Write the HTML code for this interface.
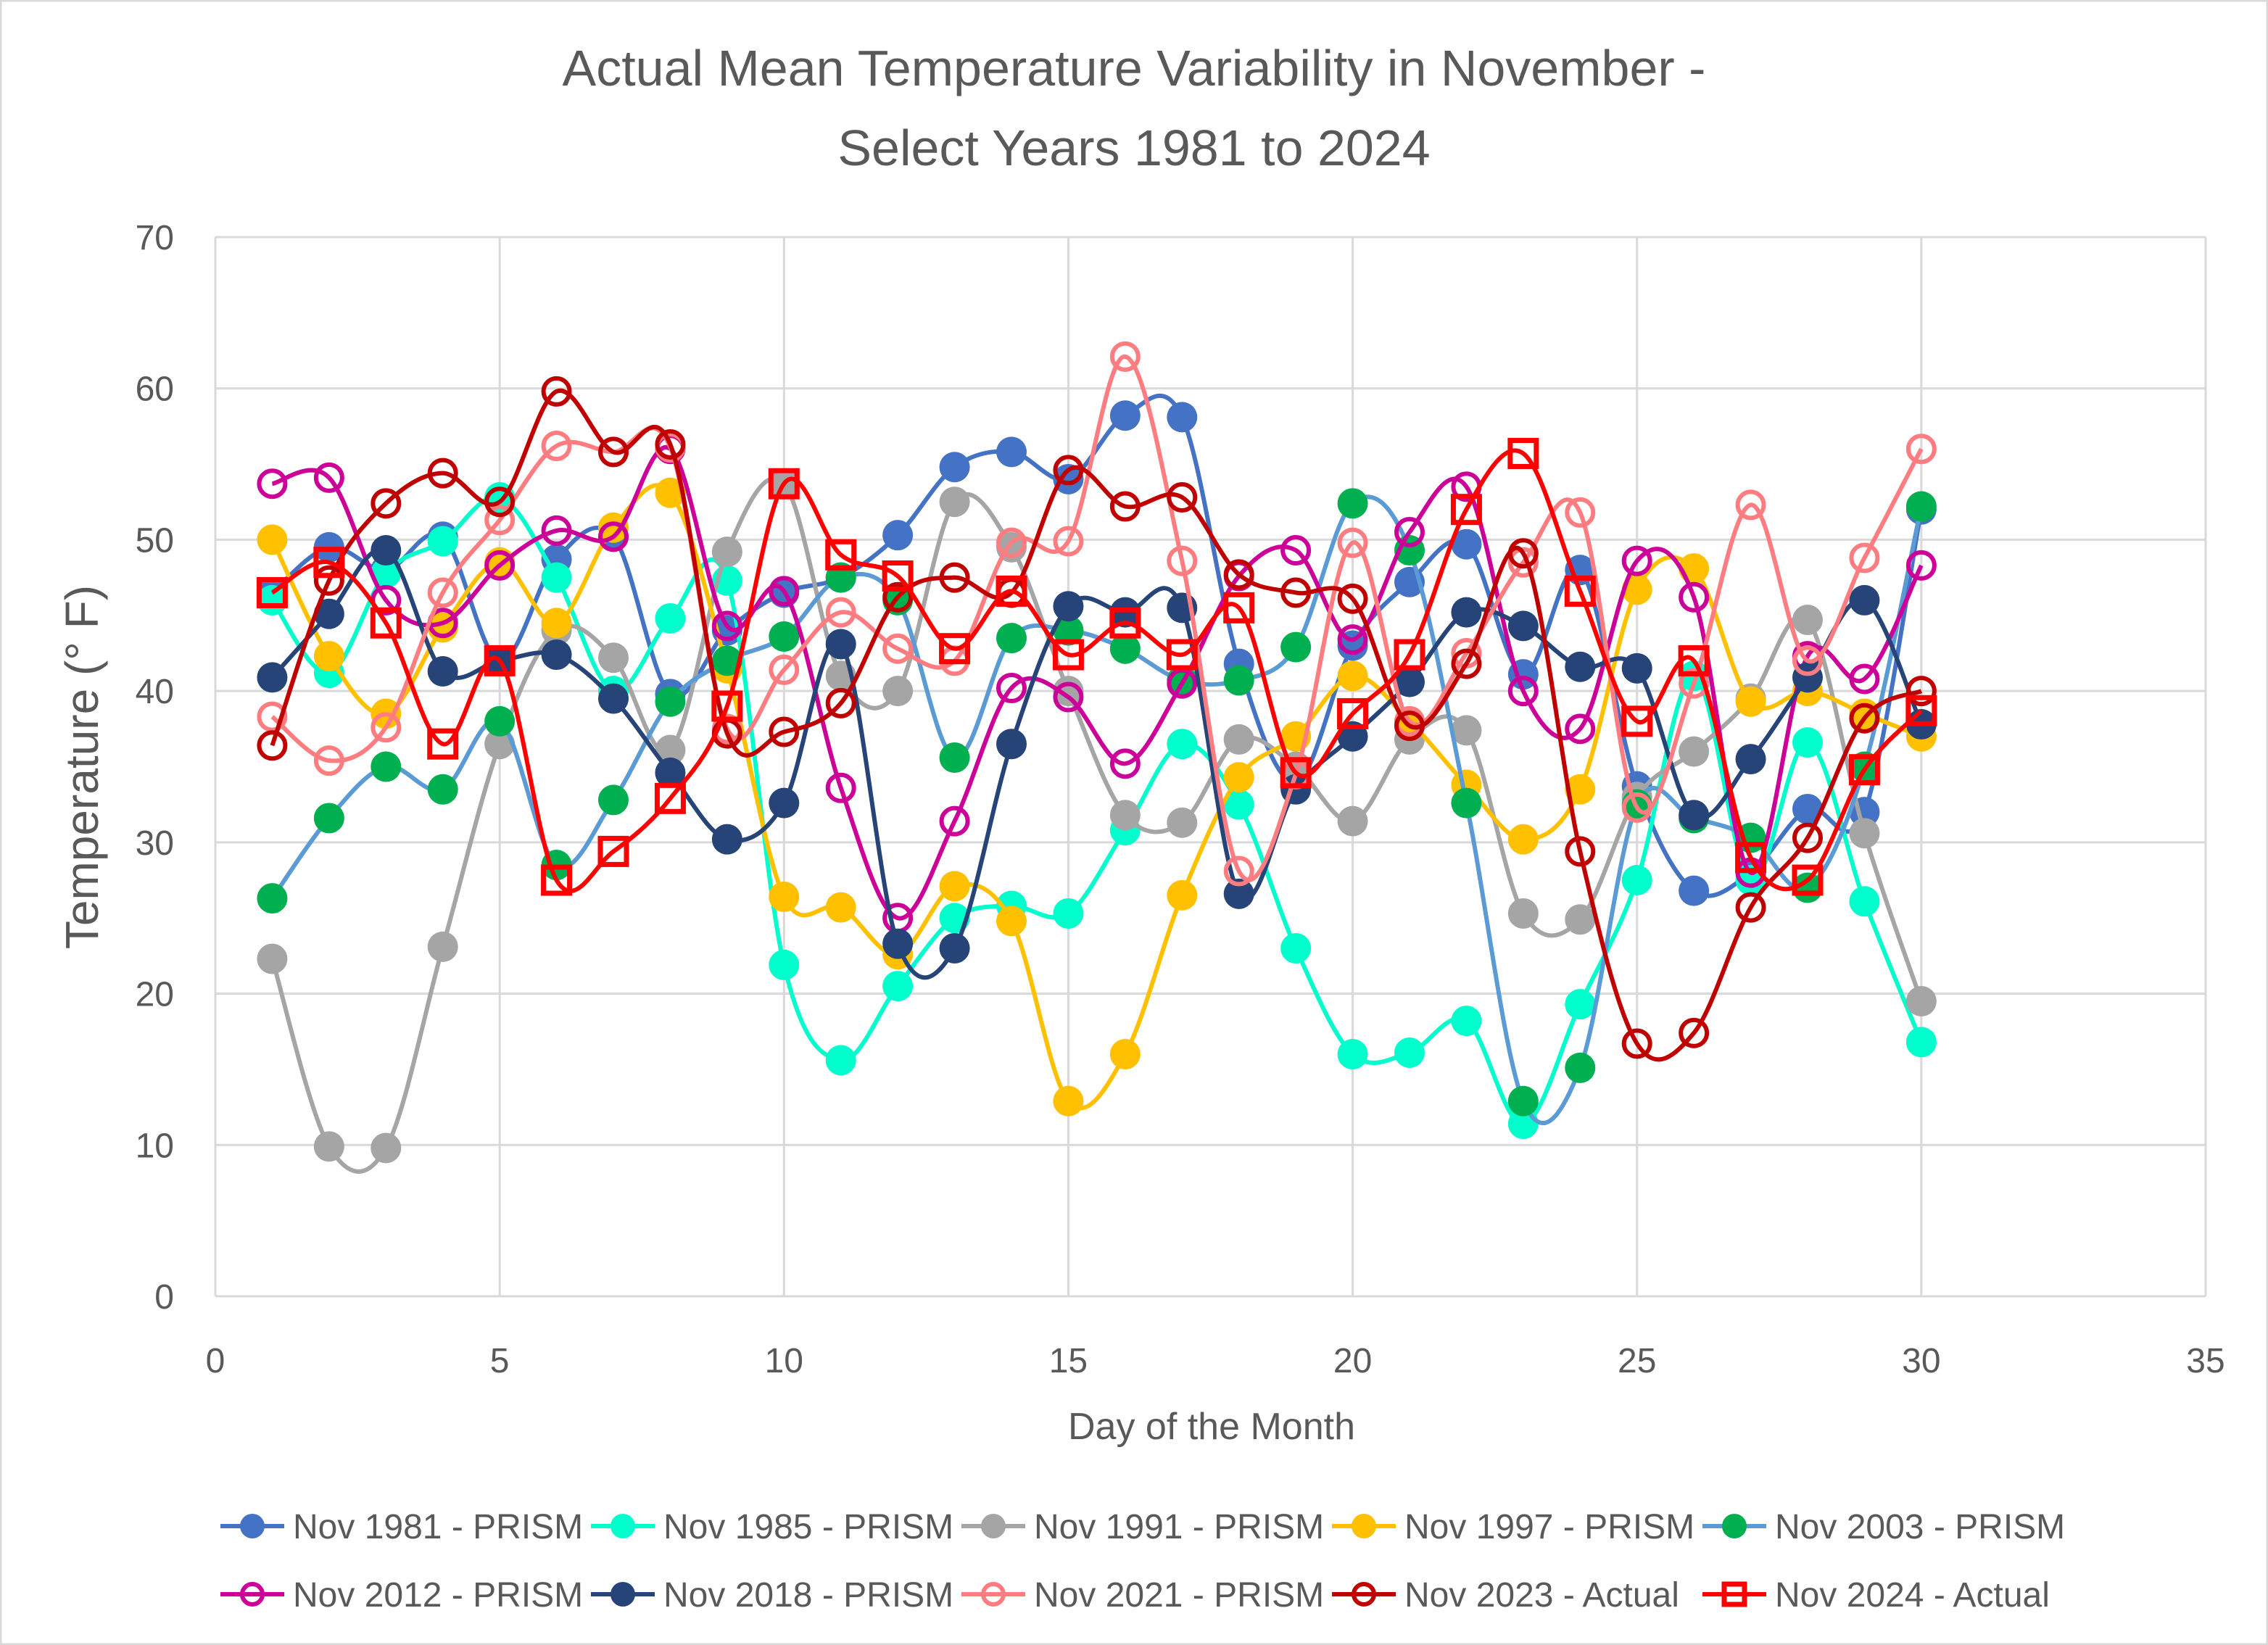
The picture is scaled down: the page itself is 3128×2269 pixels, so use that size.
<!DOCTYPE html>
<html><head><meta charset="utf-8"><style>
html,body{margin:0;padding:0;background:#fff;}
svg{display:block;font-family:"Liberation Sans","DejaVu Sans",sans-serif;}
</style></head><body>
<svg id="chart" xmlns="http://www.w3.org/2000/svg" width="3128" height="2269" viewBox="0 0 3128 2269">
<rect x="1" y="1" width="3126" height="2267" fill="#fff" stroke="#D9D9D9" stroke-width="3"/>
<text x="1564" y="118" text-anchor="middle" font-size="70" fill="#595959">Actual Mean Temperature Variability in November -</text>
<text x="1564" y="228" text-anchor="middle" font-size="70" fill="#595959">Select Years 1981 to 2024</text>
<g id="grid"></g>
<g id="axes"></g>
<g id="series"></g>
<g id="legend"></g>
<text x="1671" y="1985" text-anchor="middle" font-size="52" fill="#595959">Day of the Month</text>
<text transform="translate(135,1058) rotate(-90)" text-anchor="middle" font-size="64" fill="#595959">Temperature (° F)</text>
</svg>
<script>
const xTicks = [0,5,10,15,20,25,30,35];
const yTicks = [0,10,20,30,40,50,60,70];
const days = [1,2,3,4,5,6,7,8,9,10,11,12,13,14,15,16,17,18,19,20,21,22,23,24,25,26,27,28,29,30];
const seriesNames = ["Nov 1981 - PRISM","Nov 1985 - PRISM","Nov 1991 - PRISM","Nov 1997 - PRISM","Nov 2003 - PRISM","Nov 2012 - PRISM","Nov 2018 - PRISM","Nov 2021 - PRISM","Nov 2023 - Actual","Nov 2024 - Actual"];
const nov1981 = [46.5,49.5,48,50.2,42,48.7,50.2,39.8,44,46.5,47.5,50.3,54.8,55.8,54.0,58.2,58.1,41.8,34,43,47.2,49.7,41.1,48,33.7,26.8,28,32.2,32,52];
const nov1985 = [46,41.2,47.8,49.9,52.8,47.5,40,44.8,47.3,21.9,15.6,20.5,25,25.8,25.3,30.8,36.5,32.5,23,16,16.1,18.2,11.4,19.3,27.5,41,27.5,36.6,26.1,16.8];
const nov1991 = [22.3,9.9,9.8,23.1,36.5,44,42.2,36.1,49.2,53.7,41,40,52.5,49.5,40,31.8,31.3,36.8,35,31.4,36.8,37.4,25.3,24.9,33,36,39.5,44.7,30.6,19.5];
const nov1997 = [50,42.3,38.5,44.2,48.5,44.5,50.8,53.1,41.5,26.4,25.7,22.6,27.1,24.8,12.9,16,26.5,34.3,37,41,38,33.8,30.2,33.5,46.7,48.1,39.3,40,38.5,37];
const nov2003 = [26.3,31.6,35,33.5,38,28.5,32.8,39.3,42,43.6,47.5,46,35.6,43.5,44,42.8,40.7,40.7,42.9,52.4,49.3,32.6,12.9,15.1,32.5,31.6,30.3,27,35,52.2];
const nov2012 = [53.7,54.1,46,44.5,48.3,50.6,50.2,56,44.3,46.6,33.6,25,31.4,40.2,39.6,35.2,40.5,47.6,49.3,43.4,50.5,53.5,40,37.5,48.6,46.2,28,42.3,40.8,48.3];
const nov2018 = [40.9,45.1,49.3,41.3,42,42.4,39.5,34.6,30.2,32.6,43.1,23.3,23,36.5,45.6,45.2,45.5,26.6,33.5,37,40.6,45.2,44.3,41.6,41.5,31.8,35.5,40.9,46,37.8];
const nov2021 = [38.3,35.4,37.6,46.5,51.3,56.2,55.8,56.1,37.5,41.4,45.2,42.8,42,49.8,49.9,62.1,48.6,28.1,34.5,49.8,38,42.5,48.5,51.8,32.3,40.5,52.3,42,48.8,56];
const nov2023 = [36.4,47.3,52.4,54.4,52.5,59.8,55.8,56.3,37.2,37.3,39.2,46.2,47.5,46.5,54.6,52.2,52.8,47.7,46.5,46.1,37.7,41.8,49.1,29.4,16.7,17.4,25.7,30.3,38.2,40];
const nov2024 = [46.5,48.5,44.5,36.5,42,27.5,29.4,32.9,39,53.7,49,47.6,42.8,46.6,42.4,44.5,42.4,45.5,34.6,38.5,42.4,52,55.7,46.6,38,42,29,27.5,34.8,38.7];

const seriesData = [nov1981,nov1985,nov1991,nov1997,nov2003,nov2012,nov2018,nov2021,nov2023,nov2024];
const lineColors = ["#4472C4","#00FFCC","#A5A5A5","#FFC000","#5B9BD5","#CC0099","#264478","#FF7C80","#C00000","#FF0000"];
const markerColors = ["#4472C4","#00FFCC","#A5A5A5","#FFC000","#00B050","#CC0099","#264478","#FF7C80","#C00000","#FF0000"];
const markerTypes = ["fill","fill","fill","fill","fill","open","fill","open","open","square"];

const NS = "http://www.w3.org/2000/svg";
const X0 = 297, X1 = 3042, Y0 = 1788, Y1 = 327;
function xs(v){ return X0 + (v - 0) / 35 * (X1 - X0); }
function ys(v){ return Y0 - (v - 0) / 70 * (Y0 - Y1); }
function mk(tag, attrs, parent){ const e = document.createElementNS(NS, tag); for (const k in attrs) e.setAttribute(k, attrs[k]); parent.appendChild(e); return e; }

const grid = document.getElementById('grid');
yTicks.forEach(t => {
  const l = mk('line', {x1:X0, x2:X1, y1:ys(t), y2:ys(t), stroke:'#D9D9D9', 'stroke-width':3}, grid);
  
  
});
xTicks.forEach(t => {
  const l = mk('line', {x1:xs(t), x2:xs(t), y1:Y1, y2:Y0, stroke:'#D9D9D9', 'stroke-width':3}, grid);
  
  
});
const axes = document.getElementById('axes');
yTicks.forEach(t => {
  const tx = mk('text', {x:240, y:ys(t)+17, 'text-anchor':'end', 'font-size':48, fill:'#595959'}, axes);
  tx.textContent = t;
  
  
});
xTicks.forEach(t => {
  const tx = mk('text', {x:xs(t), y:1893, 'text-anchor':'middle', 'font-size':48, fill:'#595959'}, axes);
  tx.textContent = t;
  
  
});

function smoothPath(pts){
  let d = 'M' + pts[0][0] + ',' + pts[0][1];
  for (let i = 0; i < pts.length - 1; i++){
    const p0 = pts[Math.max(0, i-1)], p1 = pts[i], p2 = pts[i+1], p3 = pts[Math.min(pts.length-1, i+2)];
    const c1x = p1[0] + (p2[0]-p0[0])/6, c1y = p1[1] + (p2[1]-p0[1])/6;
    const c2x = p2[0] - (p3[0]-p1[0])/6, c2y = p2[1] - (p3[1]-p1[1])/6;
    d += ' C' + c1x + ',' + c1y + ' ' + c2x + ',' + c2y + ' ' + p2[0] + ',' + p2[1];
  }
  return d;
}
function drawMarker(parent, type, color, cx, cy, r){
  let m;
  if (type === 'fill') m = mk('circle', {cx:cx, cy:cy, r:r, fill:color}, parent);
  else if (type === 'open') m = mk('circle', {cx:cx, cy:cy, r:r-3, fill:'none', stroke:color, 'stroke-width':6}, parent);
  else m = mk('rect', {x:cx-r+3, y:cy-r+3, width:2*r-6, height:2*r-6, fill:'none', stroke:color, 'stroke-width':7}, parent);
  return m;
}
const sg = document.getElementById('series');
seriesData.forEach((vals, si) => {
  const g = mk('g', {}, sg);
  
  
  const pts = vals.map((v, i) => [xs(days[i]), ys(v)]);
  const p = mk('path', {d:smoothPath(pts), fill:'none', stroke:lineColors[si], 'stroke-width':6, 'stroke-linejoin':'round'}, g);
  
  
  pts.forEach(pt => {
    const m = drawMarker(g, markerTypes[si], markerColors[si], pt[0], pt[1], 21);
    
    
  });
});

const lg = document.getElementById('legend');
seriesNames.forEach((name, i) => {
  const col = i % 5, row = Math.floor(i / 5);
  const lx = 304 + col * 511, ly = 2105 + row * 94;
  const g = mk('g', {}, lg);
  
  
  mk('line', {x1:lx, x2:lx+88, y1:ly, y2:ly, stroke:lineColors[i], 'stroke-width':6}, g);
  drawMarker(g, markerTypes[i], markerColors[i], lx+44, ly, 17);
  const t = mk('text', {x:lx+100, y:ly+17, 'font-size':48, fill:'#595959'}, g);
  t.textContent = name;
  
  
});
</script>
</body></html>
